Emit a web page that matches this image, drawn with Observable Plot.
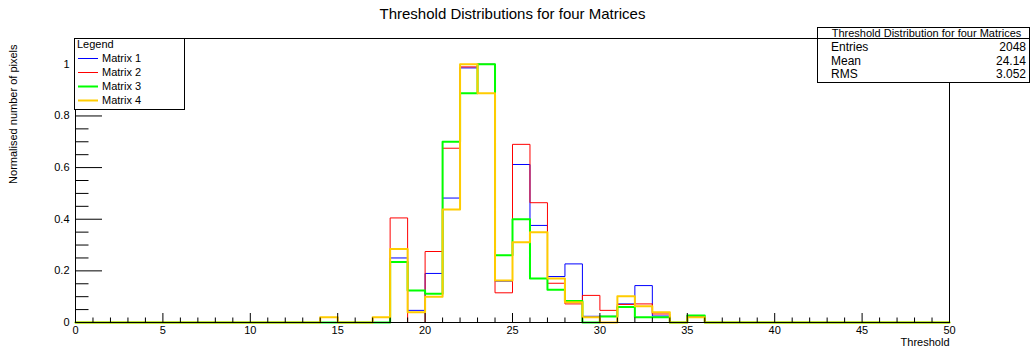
<!DOCTYPE html>
<html>
<head>
<meta charset="utf-8">
<script src="https://cdn.jsdelivr.net/npm/d3@7"></script>
<script src="https://cdn.jsdelivr.net/npm/@observablehq/plot@0.6"></script>
<style>
  html, body { margin: 0; padding: 0; background: white; }
  #chart svg { display: block; }
</style>
</head>
<body>
<div id="chart"></div>
<script>
// ---- data (normalised counts per bin, bins of width 1 from 0 to 50) ----
const seriesNames = ["Matrix 1", "Matrix 2", "Matrix 3", "Matrix 4"];
const seriesColors = ["#0000ff", "#ff0000", "#00ff00", "#ffcc00"];
const seriesWidths = [1, 1, 2, 2];

const matrix1 = [0,0,0,0,0,0,0,0,0,0, 0,0,0,0,0,0,0,0,0.25,0.047, 0.19,0.482,0.986,1.0,0.16,0.612,0.376,0.178,0.227,0.024, 0.024,0.072,0.143,0.025,0,0.023,0,0,0,0, 0,0,0,0,0,0,0,0,0,0];
const matrix2 = [0,0,0,0,0,0,0,0,0,0, 0,0,0,0,0,0,0,0,0.405,0, 0.275,0.675,0.99,1.0,0.115,0.69,0.464,0.152,0.072,0.105, 0.047,0.07,0.072,0.033,0,0,0,0,0,0, 0,0,0,0,0,0,0,0,0,0];
const matrix3 = [0,0,0,0,0,0,0,0,0,0, 0,0,0,0,0,0,0,0,0.234,0.124, 0.111,0.70,0.888,1.0,0.26,0.40,0.17,0.127,0.083,0, 0.023,0.06,0.02,0.02,0,0.027,0,0,0,0, 0,0,0,0,0,0,0,0,0,0];
const matrix4 = [0,0,0,0,0,0,0,0,0,0, 0,0,0,0,0.02,0,0,0.02,0.285,0.04, 0.10,0.438,1.0,0.888,0.163,0.311,0.35,0.17,0.078,0.02, 0,0.102,0.063,0.04,0,0.02,0,0,0,0, 0,0,0,0,0,0,0,0,0,0];

const binLow = 0, binHigh = 50, binWidth = 1;

const xMajorTicks = [0, 5, 10, 15, 20, 25, 30, 35, 40, 45, 50];
const xMinorTicks = [1,2,3,4,6,7,8,9,11,12,13,14,16,17,18,19,21,22,23,24,26,27,28,29,31,32,33,34,36,37,38,39,41,42,43,44,46,47,48,49];
const yMajorTicks = [0, 0.2, 0.4, 0.6, 0.8, 1];
const yMinorTicks = [0.05,0.1,0.15,0.25,0.3,0.35,0.45,0.5,0.55,0.65,0.7,0.75,0.85,0.9,0.95,1.05];

const titleText = "Threshold Distributions for four Matrices";
const xTitle = "Threshold";
const yTitle = "Normalised number of pixels";
const legendHeader = "Legend";
const statsHeader = "Threshold Distribution for four Matrices";
const statsLabels = ["Entries", "Mean", "RMS"];
const statsValues = ["2048", "24.14", "3.052"];

// ---- build step points ----
const allSeries = [matrix1, matrix2, matrix3, matrix4];
function stepPoints(values, name) {
  const pts = values.map((v, i) => ({x: binLow + i * binWidth, y: v, s: name}));
  pts.push({x: binHigh, y: values[values.length - 1], s: name});
  return pts;
}

const W = 1031, H = 352;
const mL = 75, mR = 82, mT = 38, mB = 30;
const frameW = W - mL - mR, frameH = H - mT - mB;
const font = "'Liberation Sans', Arial, Helvetica, sans-serif";

const lineMarks = allSeries.map((vals, k) =>
  Plot.line(stepPoints(vals, seriesNames[k]), {
    x: "x", y: "y", curve: "step-after",
    stroke: seriesColors[k], strokeWidth: seriesWidths[k]
  })
);

const chart = Plot.plot({
  width: W, height: H,
  marginLeft: mL, marginRight: mR, marginTop: mT, marginBottom: mB,
  style: {fontFamily: font, fontSize: "11px", background: "white", color: "black"},
  x: {domain: [binLow, binHigh]},
  y: {domain: [0, 1.1]},
  marks: [
    ...lineMarks,
    // x ticks pointing up from the bottom
    Plot.tickX(xMajorTicks, {x: d => d, insetTop: frameH - 9, stroke: "black"}),
    Plot.tickX(xMinorTicks, {x: d => d, insetTop: frameH - 4.5, stroke: "black"}),
    // y ticks pointing right from the left
    Plot.tickY(yMajorTicks, {y: d => d, insetRight: frameW - 27, stroke: "black"}),
    Plot.tickY(yMinorTicks, {y: d => d, insetRight: frameW - 13.5, stroke: "black"}),
    Plot.axisX(xMajorTicks, {anchor: "bottom", tickSize: 0, tickPadding: 4, label: null, fontSize: 11, tickFormat: d => String(d)}),
    Plot.axisY(yMajorTicks, {anchor: "left", tickSize: 0, tickPadding: 6, label: null, fontSize: 11, tickFormat: d => String(+d.toFixed(2))}),
    Plot.frame({stroke: "black"}),
    Plot.text([titleText], {frameAnchor: "top", dy: -24, fontSize: 15, lineAnchor: "middle"}),
    Plot.text([xTitle], {frameAnchor: "bottom-right", dy: 20, textAnchor: "end", lineAnchor: "middle", fontSize: 11}),
    Plot.text([yTitle], {frameAnchor: "top-left", dx: -62, dy: 6, rotate: -90, textAnchor: "end", lineAnchor: "middle", fontSize: 11})
  ]
});

document.getElementById("chart").appendChild(chart);

// ---- legend box (top-left) and stats box (top-right), drawn onto the same SVG ----
const svg = d3.select(chart);
const leg = svg.append("g").attr("font-family", font).attr("font-size", 11).attr("text-anchor", "start");
leg.append("rect").attr("x", 74.5).attr("y", 38.5).attr("width", 110).attr("height", 71)
  .attr("fill", "white").attr("stroke", "black");
leg.append("text").attr("x", 77).attr("y", 44).attr("dy", "0.35em").attr("text-anchor", "start").text(legendHeader);
seriesNames.forEach((n, i) => {
  const cy = 58.5 + 14 * i;
  leg.append("line").attr("x1", 78).attr("x2", 98).attr("y1", cy).attr("y2", cy)
    .attr("stroke", seriesColors[i]).attr("stroke-width", seriesWidths[i]);
  leg.append("text").attr("x", 102).attr("y", cy).attr("dy", "0.35em").attr("text-anchor", "start").text(n);
});

const st = svg.append("g").attr("font-family", font).attr("font-size", 11);
const sx = 817.5, sy = 27.5, sw = 212, sh = 55;
st.append("rect").attr("x", sx).attr("y", sy).attr("width", sw).attr("height", sh)
  .attr("fill", "white").attr("stroke", "black");
st.append("line").attr("x1", sx).attr("x2", sx + sw).attr("y1", 38.5).attr("y2", 38.5).attr("stroke", "black");
st.append("text").attr("x", sx + sw / 2 + 3).attr("y", 33).attr("dy", "0.35em").attr("text-anchor", "middle").text(statsHeader);
statsLabels.forEach((lab, i) => {
  const cy = 47 + 13.5 * i;
  st.append("text").attr("x", 831).attr("y", cy).attr("dy", "0.35em").attr("font-size", 12).attr("text-anchor", "start").text(lab);
  st.append("text").attr("x", 1026).attr("y", cy).attr("dy", "0.35em").attr("font-size", 12).attr("text-anchor", "end").text(statsValues[i]);
});
</script>
</body>
</html>
